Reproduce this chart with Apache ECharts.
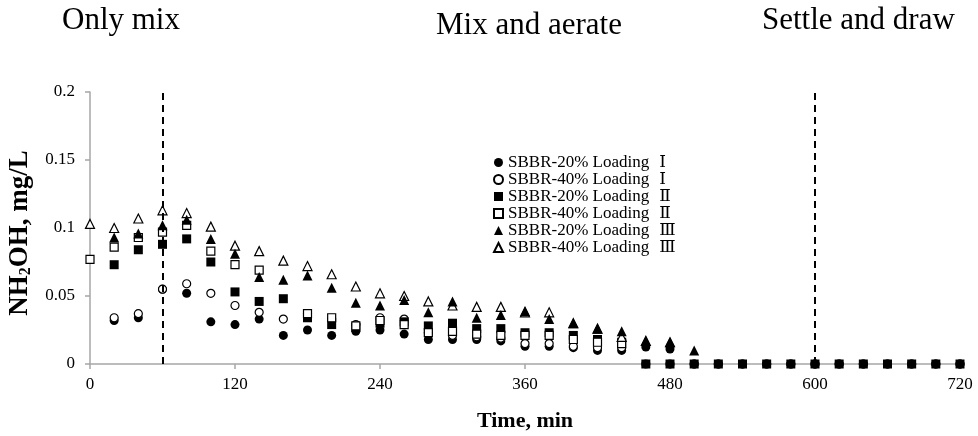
<!DOCTYPE html>
<html>
<head>
<meta charset="utf-8">
<script src="https://cdn.jsdelivr.net/npm/echarts@6/dist/echarts.min.js"></script>
<style>
  html, body { margin: 0; padding: 0; background: #fff; }
  #chart { width: 978px; height: 436px; }
</style>
</head>
<body>
<div id="chart"></div>
<script>
// Sampling times (min)
const times = [0, 20, 40, 60, 80, 100, 120, 140, 160, 180, 200, 220, 240, 260, 280, 300, 320, 340, 360,
  380, 400, 420, 440, 460, 480, 500, 520, 540, 560, 580, 600, 620, 640, 660, 680, 700, 720];

// NH2OH concentration (mg/L) per reactor / loading
const sbbr20L1 = [null, 0.032, 0.034, 0.055, 0.052, 0.031, 0.029, 0.033, 0.021, 0.025, 0.021, 0.024, 0.025, 0.022,
  0.018, 0.018, 0.018, 0.017, 0.013, 0.013, 0.012, 0.010, 0.010, 0.0125, 0.011, 0, 0, 0, 0, 0, 0, 0, 0, 0, 0, 0, 0];
const sbbr40L1 = [null, 0.034, 0.037, 0.055, 0.059, 0.052, 0.043, 0.038, 0.033, 0.037, 0.033, 0.029, 0.034, 0.033,
  0.023, 0.021, 0.020, 0.019, 0.015, 0.015, 0.013, 0.012, 0.012, 0, 0, 0, 0, 0, 0, 0, 0, 0, 0, 0, 0, 0, 0];
const sbbr20L2 = [null, 0.073, 0.084, 0.088, 0.092, 0.075, 0.053, 0.046, 0.048, 0.034, 0.029, 0.027, 0.030, 0.031,
  0.028, 0.030, 0.026, 0.026, 0.023, 0.023, 0.021, 0.018, 0.016, 0, 0, 0, 0, 0, 0, 0, 0, 0, 0, 0, 0, 0, 0];
const sbbr40L2 = [0.077, 0.086, 0.093, 0.097, 0.102, 0.083, 0.073, 0.069, null, 0.037, 0.034, 0.028, 0.032, 0.029,
  0.023, 0.024, 0.022, 0.021, 0.021, 0.021, 0.018, 0.016, 0.015, null, null, null, null, null, null, null, null,
  null, null, null, null, null, null];
const sbbr20L3 = [null, 0.093, 0.096, 0.102, 0.106, 0.092, 0.081, 0.064, 0.062, 0.065, 0.056, 0.045, 0.043, 0.047,
  0.038, 0.046, 0.034, 0.036, 0.039, 0.033, 0.030, 0.026, 0.024, 0.017, 0.016, 0.010, null, null, null, null, null,
  null, null, null, null, null, null];
const sbbr40L3 = [0.103, 0.100, 0.107, 0.113, 0.111, 0.101, 0.087, 0.083, 0.076, 0.072, 0.066, 0.057, 0.052, 0.050,
  0.046, 0.043, 0.042, 0.042, 0.038, 0.038, 0.030, 0.026, 0.020, 0.017, 0.016, null, null, null, null, null, null,
  null, null, null, null, null, null];

// Phase boundaries (min) and phase captions
const phaseBounds = [60, 600];
const phaseNames = ['Only mix', 'Mix and aerate', 'Settle and draw'];

const xTicks = { min: 0, max: 720, step: 120 };
const yTicks = { min: 0, max: 0.2, step: 0.05 };

const serif = "'Liberation Serif', 'Times New Roman', 'DejaVu Serif', 'Noto Sans CJK SC', serif";

function pairs(vals) {
  return times.map((t, i) => [t, vals[i]]).filter(p => p[1] !== null);
}

function scatter(name, vals, symbol, filled, size) {
  return {
    name: name,
    type: 'scatter',
    symbol: symbol,
    symbolSize: size,
    data: pairs(vals),
    itemStyle: {
      color: filled ? '#000' : '#fff',
      borderColor: '#000',
      borderWidth: filled ? 0 : 1.2,
      opacity: 1
    },
    emphasis: { disabled: true },
    z: 3
  };
}

const loads = ['Ⅰ', 'Ⅱ', 'Ⅲ'];
const names = [
  'SBBR-20% Loading ' + loads[0], 'SBBR-40% Loading ' + loads[0],
  'SBBR-20% Loading ' + loads[1], 'SBBR-40% Loading ' + loads[1],
  'SBBR-20% Loading ' + loads[2], 'SBBR-40% Loading ' + loads[2]
];

const series = [
  scatter(names[0], sbbr20L1, 'circle', true, 9),
  scatter(names[1], sbbr40L1, 'circle', false, 8),
  scatter(names[2], sbbr20L2, 'rect', true, 9),
  scatter(names[3], sbbr40L2, 'rect', false, 8),
  scatter(names[5], sbbr40L3, 'triangle', false, 9),
  scatter(names[4], sbbr20L3, 'triangle', true, 10)
];

// dashed phase separators
series.push({
  type: 'line',
  data: [],
  silent: true,
  markLine: {
    silent: true,
    symbol: 'none',
    label: { show: false },
    lineStyle: { color: '#000', type: [7, 5], width: 2 },
    data: phaseBounds.map(v => ({ xAxis: v }))
  }
});

const chart = echarts.init(document.getElementById('chart'), null, { renderer: 'canvas' });

chart.setOption({
  animation: false,
  backgroundColor: '#fff',
  grid: { left: 90, right: 18, top: 92, bottom: 72, containLabel: false, outerBoundsMode: 'none' },
  xAxis: {
    type: 'value',
    min: xTicks.min, max: xTicks.max, interval: xTicks.step,
    name: 'Time, min',
    nameLocation: 'middle',
    nameGap: 46,
    nameTextStyle: { fontFamily: serif, fontWeight: 'bold', fontSize: 22, color: '#000' },
    axisLine: { lineStyle: { color: '#a6a6a6', width: 1.5 } },
    axisTick: { show: true, length: 5, lineStyle: { color: '#a6a6a6', width: 1.5 } },
    axisLabel: { fontFamily: serif, fontSize: 17, color: '#000', margin: 12 },
    splitLine: { show: false }
  },
  yAxis: {
    type: 'value',
    min: yTicks.min, max: yTicks.max, interval: yTicks.step,
    name: '{a|NH}{s|2}{a|OH, mg/L}',
    nameLocation: 'middle',
    nameRotate: 90,
    nameGap: 52,
    nameTextStyle: {
      padding: [0, 10, 0, 0],
      rich: {
        a: { fontFamily: serif, fontWeight: 'bold', fontSize: 27, color: '#000' },
        s: { fontFamily: serif, fontWeight: 'bold', fontSize: 16, color: '#000', verticalAlign: 'bottom', padding: [12, 0, 0, 0] }
      }
    },
    axisLine: { show: true, lineStyle: { color: '#a6a6a6', width: 1.5 } },
    axisTick: { show: true, length: 5, lineStyle: { color: '#a6a6a6', width: 1.5 } },
    axisLabel: { fontFamily: serif, fontSize: 17, color: '#000', margin: 15 },
    splitLine: { show: false }
  },
  legend: {
    data: names,
    orient: 'vertical',
    left: 488,
    top: 149,
    itemWidth: 9,
    itemHeight: 9,
    itemGap: 0,
    selectedMode: false,
    formatter: function (n) {
      const k = n.lastIndexOf(' ');
      return '{t|' + n.slice(0, k) + '}{n|' + n.slice(k + 1) + '}';
    },
    textStyle: {
      color: '#000',
      lineHeight: 17,
      rich: {
        t: { fontFamily: serif, fontSize: 17, color: '#000', lineHeight: 17 },
        n: { fontFamily: serif, fontSize: 17, color: '#000', lineHeight: 17, padding: [0, 0, 0, 10] }
      }
    }
  },
  graphic: [
    { type: 'text', left: 62, top: 5, style: { text: phaseNames[0], font: "31px " + serif, fill: '#000' } },
    { type: 'text', left: 436, top: 10, style: { text: phaseNames[1], font: "31px " + serif, fill: '#000' } },
    { type: 'text', left: 762, top: 5, style: { text: phaseNames[2], font: "31px " + serif, fill: '#000' } }
  ],
  series: series
});
</script>
</body>
</html>
